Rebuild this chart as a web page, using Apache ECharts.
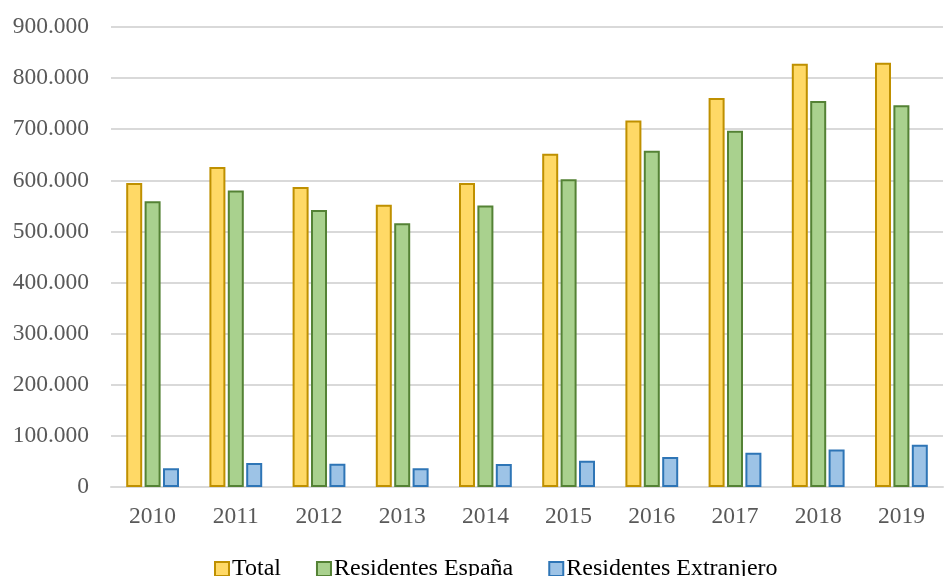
<!DOCTYPE html>
<html>
<head>
<meta charset="utf-8">
<script src="https://cdn.jsdelivr.net/npm/echarts@6/dist/echarts.min.js"></script>
<style>
  html, body { margin: 0; padding: 0; background: #ffffff; }
  #chart { width: 944px; height: 576px; }
</style>
</head>
<body>
<div id="chart"></div>
<script>
// Visitor counts per year (persons)
const years = ['2010', '2011', '2012', '2013', '2014', '2015', '2016', '2017', '2018', '2019'];
const total = [595000, 626000, 587000, 552000, 595000, 652000, 717000, 761000, 828000, 830000];
const residentesEspana = [559000, 580000, 542000, 516000, 551000, 602000, 658000, 697000, 755000, 747000];
const residentesExtranjero = [36500, 47000, 45500, 36500, 45000, 51500, 58500, 67000, 73500, 82500];
const seriesNames = ['Total', 'Residentes España', 'Residentes Extranjero'];

const serif = "'Liberation Serif', 'Times New Roman', 'DejaVu Serif', serif";

function fmtThousands(v) {
  return String(v).replace(/\B(?=(\d{3})+(?!\d))/g, '.');
}

const chart = echarts.init(document.getElementById('chart'), null, { renderer: 'canvas' });

function barSeries(name, data, fill, stroke) {
  return {
    name: name,
    type: 'bar',
    data: data,
    barWidth: 16,
    barGap: '15%',
    itemStyle: { color: fill, borderColor: stroke, borderWidth: 2 },
    emphasis: { disabled: true }
  };
}

chart.setOption({
  animation: false,
  backgroundColor: '#ffffff',
  grid: { left: 111, right: 1, top: 27, bottom: 89, containLabel: false },
  legend: {
    top: 552,
    left: 209,
    itemWidth: 14,
    itemHeight: 14,
    itemGap: 35,
    icon: 'rect',
    textStyle: { fontFamily: serif, fontSize: 24, color: '#000000', padding: [0, 0, 0, -2] },
    data: seriesNames
  },
  xAxis: {
    type: 'category',
    data: years,
    axisLine: { show: true, lineStyle: { color: '#d9d9d9', width: 2 } },
    axisTick: { show: false },
    axisLabel: { fontFamily: serif, fontSize: 23.5, color: '#595959', margin: 18 }
  },
  yAxis: {
    type: 'value',
    min: 0,
    max: 900000,
    interval: 100000,
    axisLine: { show: false },
    axisTick: { show: false },
    splitLine: { lineStyle: { color: '#d9d9d9', width: 2 } },
    axisLabel: {
      fontFamily: serif, fontSize: 23.5, color: '#595959', margin: 22,
      formatter: fmtThousands
    }
  },
  series: [
    barSeries(seriesNames[0], total, '#ffd966', '#bf9000'),
    barSeries(seriesNames[1], residentesEspana, '#a9d18e', '#548235'),
    barSeries(seriesNames[2], residentesExtranjero, '#9dc3e6', '#2e75b6')
  ]
});
</script>
</body>
</html>
